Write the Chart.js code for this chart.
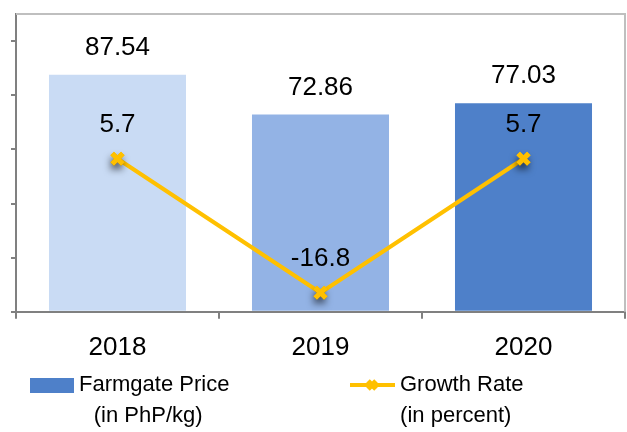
<!DOCTYPE html>
<html>
<head>
<meta charset="utf-8">
<script src="https://cdn.jsdelivr.net/npm/chart.js@4"></script>
<style>
  html, body { margin: 0; padding: 0; background: #fff; overflow: hidden; }
  #wrap { width: 627px; height: 432px; position: absolute; left: 0; top: 0; }
</style>
</head>
<body>
<div id="wrap"><canvas id="chart"></canvas></div>
<script>
const years = ['2018', '2019', '2020'];
const farmgatePrice = [87.54, 72.86, 77.03];
const growthRate = [5.7, -16.8, 5.7];
const priceTicks = [0, 20, 40, 60, 80, 100];
const legendLines = [['Farmgate Price', '(in PhP/kg)'], ['Growth Rate', '(in percent)']];

const FONT = '"Liberation Sans", Arial, sans-serif';
const AXIS = '#808080';
const LINE = '#FFC000';

// caixa em volta da area (topo e direita, claros)
const frame = {
  id: 'frame',
  beforeDatasetsDraw(chart) {
    const { ctx, chartArea: a } = chart;
    ctx.save();
    ctx.strokeStyle = '#BFBFBF';
    ctx.lineWidth = 2;
    ctx.beginPath();
    ctx.moveTo(a.left, a.top);
    ctx.lineTo(a.right, a.top);
    ctx.lineTo(a.right, a.bottom);
    ctx.stroke();
    ctx.restore();
  },
};

// marcadores com sombra + rotulos de valor
const valueLabels = {
  id: 'valueLabels',
  afterDatasetDraw(chart, args) {
    if (args.index !== 1) return;
    const { ctx, chartArea } = chart;
    ctx.save();
    ctx.shadowColor = 'rgba(0,0,0,0.6)';
    ctx.shadowBlur = 7;
    ctx.shadowOffsetX = -1;
    ctx.shadowOffsetY = 5;
    args.meta.data.forEach((p) => p.draw(ctx, chartArea));
    ctx.restore();
  },
  afterDatasetsDraw(chart) {
    const { ctx } = chart;
    ctx.save();
    ctx.fillStyle = '#000';
    ctx.font = '26px ' + FONT;
    ctx.textAlign = 'center';
    ctx.textBaseline = 'middle';
    chart.getDatasetMeta(0).data.forEach((bar, i) => {
      ctx.fillText(farmgatePrice[i].toFixed(2), bar.x, bar.y - 27);
    });
    chart.getDatasetMeta(1).data.forEach((pt, i) => {
      ctx.fillText(String(growthRate[i]), pt.x, pt.y - 34);
    });
    ctx.restore();
  },
};

// legenda de duas linhas embaixo
const legend2 = {
  id: 'legend2',
  afterDraw(chart) {
    const { ctx } = chart;
    const y = 385;
    ctx.save();
    ctx.font = '22px ' + FONT;
    ctx.textBaseline = 'middle';

    ctx.fillStyle = '#4E80C9';
    ctx.fillRect(30, 378, 44, 15);

    ctx.strokeStyle = LINE;
    ctx.lineWidth = 4;
    ctx.beginPath();
    ctx.moveTo(350, y);
    ctx.lineTo(395, y);
    ctx.stroke();
    ctx.lineWidth = 5;
    ctx.beginPath();
    ctx.moveTo(368, y - 4); ctx.lineTo(376, y + 4);
    ctx.moveTo(376, y - 4); ctx.lineTo(368, y + 4);
    ctx.stroke();

    ctx.fillStyle = '#000';
    [[79, legendLines[0]], [400, legendLines[1]]].forEach(([x, lines]) => {
      ctx.textAlign = 'left';
      ctx.fillText(lines[0], x, y);
      const w = ctx.measureText(lines[0]).width;
      ctx.textAlign = 'center';
      ctx.fillText(lines[1], x + w / 2 - 6, y + 31);
    });
    ctx.restore();
  },
};

new Chart(document.getElementById('chart'), {
  data: {
    labels: years,
    datasets: [
      {
        type: 'bar',
        label: 'Farmgate Price (in PhP/kg)',
        data: farmgatePrice,
        backgroundColor: ['#C9DBF4', '#93B3E5', '#4E80C9'],
        barPercentage: 0.675,
        categoryPercentage: 1,
        yAxisID: 'y',
        order: 2,
      },
      {
        type: 'line',
        label: 'Growth Rate (in percent)',
        data: growthRate,
        borderColor: LINE,
        backgroundColor: LINE,
        borderWidth: 4,
        pointStyle: 'crossRot',
        pointRadius: 7.5,
        pointBorderWidth: 5,
        pointBorderColor: LINE,
        tension: 0,
        yAxisID: 'y1',
        order: 1,
      },
    ],
  },
  options: {
    responsive: true,
    maintainAspectRatio: false,
    animation: false,
    layout: { autoPadding: false, padding: { left: 11, right: 2, top: 14, bottom: 56 } },
    plugins: { legend: { display: false }, tooltip: { enabled: false } },
    scales: {
      x: {
        grid: { offset: true, drawOnChartArea: false, tickLength: 7, color: AXIS, lineWidth: 2 },
        border: { color: AXIS, width: 2 },
        ticks: { color: '#000', font: { size: 26, family: FONT }, padding: 13 },
      },
      y: {
        position: 'left',
        min: 0,
        max: 110,
        afterBuildTicks: (s) => { s.ticks = priceTicks.map((v) => ({ value: v })); },
        grid: { drawOnChartArea: false, tickLength: 5, color: AXIS, lineWidth: 2 },
        border: { color: AXIS, width: 2 },
        ticks: { display: false },
      },
      y1: { display: false, min: -20, max: 30 },
    },
  },
  plugins: [frame, valueLabels, legend2],
});
</script>
</body>
</html>
